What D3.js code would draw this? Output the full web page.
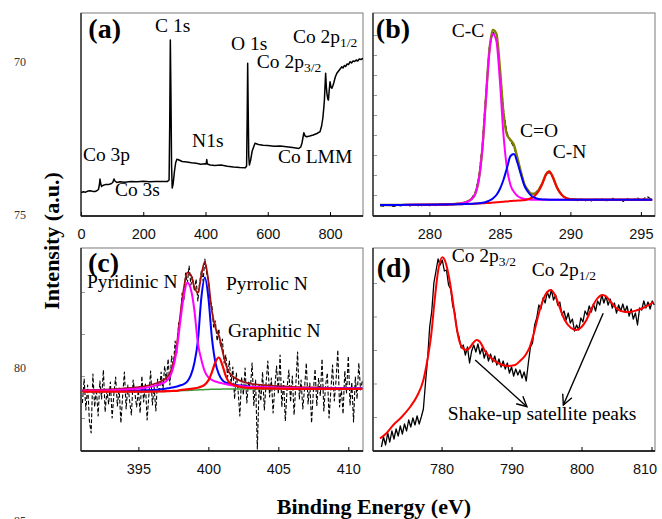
<!DOCTYPE html>
<html>
<head>
<meta charset="utf-8">
<script src="https://cdn.jsdelivr.net/npm/d3@7"></script>
<style>
  body { margin: 0; background: #fff; }
</style>
</head>
<body>
<script>
// ---------- data (intensities in arbitrary units) ----------

// (a) survey spectrum: [binding energy, intensity]
const surveyData = [
  [0,23.5],[8,24.2],[15,23.8],[22,24.9],[30,25.3],[38,24.6],[45,24.4],[52,25.5],[56,26.5],[59,31],
  [61,37],[63,33],[66,29.5],[72,30.8],[80,31.6],[88,31.4],[96,32.2],[102,33.5],[106,37],[109,35],
  [115,33.6],[125,34.2],[140,33.8],[160,34.6],[180,34.3],[200,34.7],[220,34.2],[240,34.5],[260,34.4],
  [278,34.6],[283,36],[285,90],[287,176],[289,120],[291,50],[293,28],[296,32],[300,44],[304,53],
  [308,56.7],[315,56],[325,54.5],[340,54],[355,53.2],[370,52.8],[385,51.8],[398,52.2],[402,52],
  [404,56.5],[406,52],[415,51],[430,50.6],[450,50.9],[470,49.8],[490,49],[510,48.5],[528,48.2],
  [532,50],[534,100],[535.5,152.7],[537,110],[539,60],[541,51],[545,56],[550,65],[559,72.7],
  [570,71.5],[585,70.8],[600,70.5],[620,69.8],[640,70],[660,69.2],[680,68.4],[700,67.6],[706,69],
  [710,73],[716,83.3],[720,80],[725,79.3],[735,80],[746,81],[758,82.5],[768,84.3],[773,90],[777,98],
  [780,108],[782,116],[784,130],[786,142.7],[788,130],[790,122.7],[793,117],[795,116],[797,124],
  [800,134.3],[803,129],[806,127.7],[809,130],[812,133],[817,139],[822,142.7],[830,146],[838,149.3],
  [842,148],[846,150.5],[850,149.5],[855,152],[860,151.5],[864,154.3],[869,153],[874,155],[879,154.5],
  [884,156],[889,155],[894,157],[900,156.5],[906,157.7]
];

// (b) C 1s
const c1sRawStart = 276.5, c1sRawStep = 0.25;
const c1sRaw = [
  10.5,9.8,10.9,10.2,9.6,10.8,10.1,11.2,9.9,10.6,11.3,10.1,10.7,11.5,10.4,11.1,10.3,11.8,11,10.6,11.9,11.2,
  12.6,12,13.8,14.6,18,23.5,38,70,121,168,184,178,147,106,83,75,69,57,44,31,26,21.5,23,26.5,33,41,44,38.5,30,24,19.5,18,
  16,17.2,15.4,16.8,14.9,16.5,15.2,17.4,15.6,16.9,14.8,16.3,17.6,15.1,16.7,14.6,17.9,15.3,16.4,18.2,15.2,17.8,19,16.5
];
const c1sFitEnergy = [276.5,278,279.5,281,282,282.5,283,283.25,283.5,283.75,284,284.25,284.5,284.75,285,285.25,
  285.5,285.75,286,286.25,286.5,286.75,287,287.25,287.5,287.75,288,288.25,288.5,288.75,289,289.25,289.5,290,291,292.5,294,295.8];
const c1sCC = [11,11.1,11.2,11.5,12.2,13.3,17,22,36,66,115,163,182,175,135,82,48,31,24,20,
  18,17,16.5,16.3,16.2,16.2,16.2,16.2,16.2,16.2,16.2,16.2,16.2,16.2,16.2,16.2,16.3,16.3];
const c1sCO = [11,11.1,11.2,11.4,11.7,11.9,12.2,12.4,12.7,13.2,14,15.3,17.5,21,27,36,48,60,62,53,
  41,30,24,20,18,17,16.6,16.4,16.3,16.3,16.3,16.3,16.3,16.3,16.3,16.3,16.3,16.3];
const c1sCN = [11,11.1,11.2,11.4,11.7,11.9,12.1,12.3,12.5,12.7,12.9,13.1,13.4,13.7,14,14.3,14.6,14.9,15.2,15.4,
  15.6,15.8,16.9,18,20.5,25,32,41,44.5,39,30,23.5,19.5,16.8,16.3,16.3,16.3,16.3];
const c1sSum = [11,11.1,11.2,11.5,12.2,13.3,17.1,22.1,36.2,66.5,116.1,165.2,186.1,182.3,148,103.7,81.4,76.1,70.8,57.6,
  43.4,31.2,25.6,22.3,22.5,26,32.4,41.2,44.6,39.1,30.1,23.6,19.6,16.9,16.4,16.3,16.3,16.3];

// (c) N 1s
const n1sRawStart = 391, n1sRawStep = 0.125;
const n1sRaw = [
  48,72,41,66,30,18,77,44,62,35,70,52,81,39,60,47,
  69,33,57,74,45,63,28,55,79,42,66,50,36,71,58,44,
  61,38,75,49,67,31,56,80,46,64,40,72,58,79,60,85,
  70,92,66,95,84,110,98,128,130,158,150,178,168,185,166,174,
  160,172,150,168,180,170,192,178,172,150,146,124,130,110,122,104,
  112,88,96,74,90,68,84,52,78,60,35,74,56,83,48,70,
  62,88,45,71,2,66,50,79,41,68,90,54,73,38,64,85,
  57,96,44,70,30,62,81,49,75,36,66,99,52,71,42,63,
  88,47,68,28,59,82,45,73,55,92,40,65,78,33,60,86,
  50,71,101,44,63,37,80,58,95,46,69,29,74,52,88,61,
  70
];
const n1sFitEnergy = [391,392,393,394,395,395.5,396,396.5,397,397.25,397.5,397.75,398,398.25,398.5,398.75,
  399,399.25,399.5,399.75,400,400.25,400.5,400.75,401,401.25,401.5,402,402.5,403,404,405,406,408,410,411];
const n1sBackground = [59.3,59.3,59.3,59.3,59.3,59.3,59.3,59.4,59.6,59.7,59.9,60,60.2,60.4,60.6,60.8,
  61,61.1,61.3,61.4,61.6,61.7,61.8,61.8,61.9,61.9,62,62,62,62,62,62,62,62,62,62];
const n1sPyridinic = [60.3,60.5,60.8,61.4,62.5,63.3,64.6,66.7,70.1,74.2,83.9,102,130.2,155.4,168.6,161.8,
  141,108,91.3,79.4,73.6,71.2,69.5,68.5,67.6,66.9,66.1,65.3,64.6,64.2,63.7,63.3,63,62.6,62.4,62.4];
const n1sPyrrolic = [59.9,60,60.2,60.4,60.6,60.8,61.1,61.6,62.5,63,63.8,64.5,65.7,66.9,69.6,75.8,
  88,110,153.3,173.4,153.6,113.7,88.8,76.8,70.9,68.4,67.5,65.9,64.9,64.2,63.5,63.2,63,62.7,62.4,62.4];
const n1sGraphitic = [59.3,59.3,59.3,59.3,59.35,59.4,59.4,59.5,59.8,59.9,60.1,60.2,61,61.3,61.7,62.1,
  62.6,63.3,64.5,66.4,70.6,78.7,88.8,93.5,85.9,74.9,68.5,65,63.5,63,62.55,62.3,62.2,62.1,62,62];
const n1sSum = [60.9,61.2,61.7,62.5,63.9,64.9,66.5,69,73.2,77.7,88,106.7,136.5,162.8,178.5,176,
  164,158,176,189,170,140.2,123.5,115.2,100.6,86.4,78.1,72.2,69,67.4,65.8,64.8,64.2,63.4,62.8,62.8];

// (d) Co 2p
const co2pRawStart = 771.4, co2pRawStep = 0.3;
const co2pRaw = [
  4,14,6,18,9,20,12,22,15,25,17,27,20,31,24,33,26,35,27,34,
  42,68,92,124,140,168,180,192,186,191,180,181,166,162,145,138,120,114,103,106,
  96,104,88,100,106,99,107,97,103,93,100,90,97,89,95,86,92,84,90,82,
  88,78,84,75,82,76,81,73,79,70,88,104,108,126,133,146,142,153,148,159,
  153,161,151,156,146,149,136,140,131,138,128,132,120,126,121,133,129,140,136,145,
  139,147,140,150,146,156,148,155,146,152,143,148,138,146,140,147,139,145,135,142,
  132,138,126,143,141,150,143,149,142,150,146
];
const co2pFit = [
  [771.2,12.7],[772,17],[773.1,26],[774.3,34],[775.5,44],[776.5,55],[777.4,71],[778,92],[778.5,115],
  [779,150],[779.5,180],[780.1,193.7],[780.6,188],[781,176],[781.5,155],[782,130],[782.5,111],[783,103],
  [783.5,101],[784,103],[784.5,108],[785,111],[785.5,109],[786.2,100],[787.4,91],[788.5,86.5],[789.5,85],
  [790.5,86],[791.2,90],[792,96],[792.6,104],[793.2,118],[793.8,135],[794.5,151],[795.1,159],[795.6,161],
  [796.2,156],[796.8,145],[797.6,131],[798.5,123],[799.3,121],[800,124],[800.7,131],[801.4,142],[802.2,152],
  [803,156],[803.6,154],[804.3,148],[805.1,142],[805.9,139.5],[806.8,139],[807.8,140.5],[808.8,143],
  [809.6,146],[810.3,149]
];

// tick values
const surveyTicks = [0, 200, 400, 600, 800];
const c1sTicks = [280, 285, 290, 295];
const n1sTicks = [395, 400, 405, 410];
const co2pTicks = [780, 790, 800, 810];
const strayTicks = [70, 75, 80, 85];

// ---------- drawing ----------
const serif = "'Liberation Serif', 'Times New Roman', serif";
const sans = "'Liberation Sans', Arial, sans-serif";

const svg = d3.select("body").append("svg")
  .attr("width", 662)
  .attr("height", 519)
  .style("background-color", "#fff");

const rawPoints = (start, step, vals) => vals.map((v, i) => [start + i * step, v]);
const zip = (xs, ys) => xs.map((x, i) => [x, ys[i]]);

function makePanel(id, box, domain, ticks, leftTicks) {
  const [x0, y0, x1, y1] = box;
  const x = d3.scaleLinear().domain(domain).range([x0, x1]);
  const y = d3.scaleLinear().domain([0, y1 - y0]).range([y1, y0]);
  const g = svg.append("g");

  svg.append("clipPath").attr("id", "clip-" + id)
    .append("rect").attr("x", x0).attr("y", y0).attr("width", x1 - x0).attr("height", y1 - y0);

  // frame
  g.append("rect")
    .attr("x", x0).attr("y", y0).attr("width", x1 - x0).attr("height", y1 - y0)
    .attr("fill", "none").attr("stroke", "#7a7a7a").attr("stroke-width", 1);

  // inner left ticks (gray)
  g.append("g")
    .attr("transform", `translate(${x0},0)`)
    .call(d3.axisLeft(y).tickValues(leftTicks).tickSize(-4).tickFormat(""))
    .call(a => a.select(".domain").remove())
    .call(a => a.selectAll("line").attr("stroke", "#999"));

  // bottom axis with inward ticks
  g.append("g")
    .attr("class", "xaxis")
    .attr("transform", `translate(0,${y1})`)
    .call(d3.axisBottom(x).tickValues(ticks).tickSize(-4).tickPadding(13))
    .call(a => a.select(".domain").remove())
    .call(a => a.selectAll("line").attr("stroke", "#000"))
    .call(a => a.selectAll("text")
      .attr("font-family", sans).attr("font-size", 14.5).attr("fill", "#111"));

  g.append("line").attr("x1", x0).attr("x2", x1).attr("y1", y1).attr("y2", y1)
    .attr("stroke", "#000").attr("stroke-width", 1.3);
  g.append("line").attr("x1", x0).attr("x2", x0).attr("y1", y0).attr("y2", y1)
    .attr("stroke", "#222").attr("stroke-width", 1.3);

  const plot = g.append("g").attr("clip-path", `url(#clip-${id})`);
  return { x, y, g, plot };
}

function drawLine(p, data, color, width, curve, dash) {
  const line = d3.line().x(d => p.x(d[0])).y(d => p.y(d[1])).curve(curve || d3.curveLinear);
  p.plot.append("path")
    .datum(data)
    .attr("d", line)
    .attr("fill", "none")
    .attr("stroke", color)
    .attr("stroke-width", width)
    .attr("stroke-linejoin", "round")
    .attr("stroke-dasharray", dash || null);
}

// label in data coordinates, optional subscript
function label(p, txt, ex, v, opts) {
  opts = opts || {};
  const t = p.g.append("text")
    .attr("x", p.x(ex)).attr("y", p.y(v))
    .attr("font-family", serif)
    .attr("font-size", opts.size || 19.5)
    .attr("font-weight", opts.bold ? "bold" : "normal")
    .attr("fill", "#000")
    .text(txt);
  if (opts.sub) {
    t.append("tspan").attr("font-size", 13.5).attr("dy", 4).text(opts.sub);
  }
  return t;
}

// ----- (a) survey -----
const pa = makePanel("a", [81, 13, 363, 216], [0, 906], surveyTicks, []);
drawLine(pa, surveyData, "#000", 1.5);
label(pa, "(a)", 23.5, 178, { size: 28, bold: true });
label(pa, "C 1s", 238, 184.5);
label(pa, "O 1s", 482, 166);
label(pa, "Co 2p", 681, 173, { sub: "1/2" });
label(pa, "Co 2p", 565, 147.7, { sub: "3/2" });
label(pa, "N1s", 357, 69.3);
label(pa, "Co 3p", 6.4, 55);
label(pa, "Co 3s", 109, 20);
label(pa, "Co LMM", 633, 53.3);

// ----- (b) C 1s -----
const pb = makePanel("b", [373, 13, 655, 216], [276, 296], c1sTicks, [21, 41, 61, 81, 101, 121, 141, 161, 181]);
drawLine(pb, rawPoints(c1sRawStart, c1sRawStep, c1sRaw), "#000", 1.3, d3.curveLinear, "4,2");
drawLine(pb, zip(c1sFitEnergy, c1sSum), "#808000", 2.4, d3.curveMonotoneX);
drawLine(pb, zip(c1sFitEnergy, c1sCC), "#ff00ff", 2, d3.curveMonotoneX);
drawLine(pb, zip(c1sFitEnergy, c1sCN), "#ff0000", 2, d3.curveMonotoneX);
drawLine(pb, zip(c1sFitEnergy, c1sCO), "#0000ff", 2, d3.curveMonotoneX);
label(pb, "(b)", 276.2, 178, { size: 28, bold: true });
label(pb, "C-C", 281.58, 179.5);
label(pb, "C=O", 286.43, 79.3);
label(pb, "C-N", 288.74, 58);

// ----- (c) N 1s -----
const pc = makePanel("c", [81, 248, 363, 451], [390.9, 411.05], n1sTicks, [33, 75, 117, 159]);
label(pc, "(c)", 391.4, 179, { size: 28, bold: true });
drawLine(pc, rawPoints(n1sRawStart, n1sRawStep, n1sRaw), "#000", 1.1, d3.curveLinear, "4,2");
drawLine(pc, zip(n1sFitEnergy, n1sBackground), "#3a9a3a", 1.5, d3.curveMonotoneX);
drawLine(pc, zip(n1sFitEnergy, n1sSum), "#a01010", 1.8, d3.curveMonotoneX);
drawLine(pc, zip(n1sFitEnergy, n1sPyrrolic), "#0000ff", 2, d3.curveMonotoneX);
drawLine(pc, zip(n1sFitEnergy, n1sPyridinic), "#ff00ff", 2, d3.curveMonotoneX);
drawLine(pc, zip(n1sFitEnergy, n1sGraphitic), "#ff0000", 2.2, d3.curveMonotoneX);
label(pc, "Pyridinic N", 391.33, 162.7);
label(pc, "Pyrrolic N", 401.26, 161);
label(pc, "Graphitic N", 401.4, 114.3);

// ----- (d) Co 2p -----
const pd = makePanel("d", [373, 248, 655, 451], [770.2, 810.5], co2pTicks, [34, 67.5, 101, 134.5, 168]);
// the last tick label sits just inside the page edge
pd.g.selectAll(".xaxis .tick text").filter(d => d === 810).attr("dx", -7);
drawLine(pd, rawPoints(co2pRawStart, co2pRawStep, co2pRaw), "#000", 1.3);
drawLine(pd, co2pFit, "#ff0000", 2, d3.curveMonotoneX);
label(pd, "(d)", 770.73, 174, { size: 28, bold: true });
label(pd, "Co 2p", 781.44, 188.7, { sub: "3/2" });
label(pd, "Co 2p", 792.87, 175, { sub: "1/2" });
label(pd, "Shake-up satellite peaks", 780.9, 31);

// arrows to the satellites, in data coordinates [from, to]
const satelliteArrows = [
  [[784.8, 91], [792.2, 44.3]],
  [[803.1, 137.7], [797.4, 46]]
];
svg.append("defs").append("marker")
  .attr("id", "head").attr("viewBox", "0 0 12 12")
  .attr("refX", 11).attr("refY", 6)
  .attr("markerWidth", 12).attr("markerHeight", 12)
  .attr("markerUnits", "userSpaceOnUse")
  .attr("orient", "auto")
  .append("path").attr("d", "M1,1 L11,6 L1,11")
  .attr("fill", "none").attr("stroke", "#000").attr("stroke-width", 1.4);
pd.g.selectAll(".arrow").data(satelliteArrows).enter()
  .append("line")
    .attr("class", "arrow")
    .attr("x1", d => pd.x(d[0][0])).attr("y1", d => pd.y(d[0][1]))
    .attr("x2", d => pd.x(d[1][0])).attr("y2", d => pd.y(d[1][1]))
    .attr("stroke", "#000").attr("stroke-width", 1.4)
    .attr("marker-end", "url(#head)");

// ----- shared axis titles -----
svg.append("text")
  .attr("transform", "translate(59,241) rotate(-90)")
  .attr("text-anchor", "middle")
  .attr("font-family", serif).attr("font-size", 22).attr("font-weight", "bold")
  .text("Intensity (a.u.)");

svg.append("text")
  .attr("x", 374).attr("y", 514)
  .attr("text-anchor", "middle")
  .attr("font-family", serif).attr("font-size", 22).attr("font-weight", "bold")
  .text("Binding Energy (eV)");

// stray scale numbers at the far left
const stray = d3.scaleLinear().domain([70, 85]).range([62, 521]);
svg.selectAll(".stray").data(strayTicks).enter()
  .append("text")
    .attr("class", "stray")
    .attr("x", 20).attr("y", d => stray(d))
    .attr("dy", "0.35em")
    .attr("text-anchor", "middle")
    .attr("font-family", serif).attr("font-size", 12)
    .attr("fill", "#333")
    .text(d => d);
</script>
</body>
</html>
